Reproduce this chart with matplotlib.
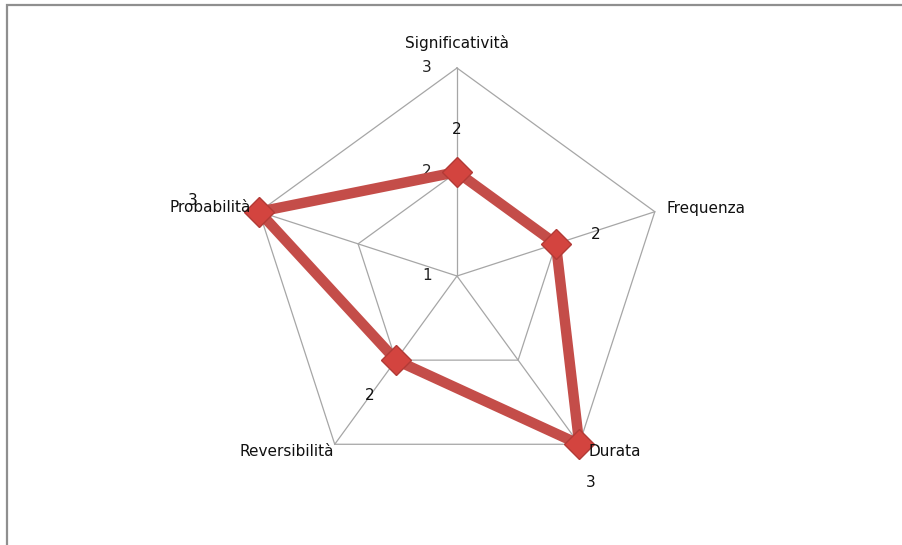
import numpy as np
import matplotlib
matplotlib.use('Agg')
import matplotlib.pyplot as plt
from matplotlib.patches import Rectangle

# Radar di valutazione dell'impatto
categories = ['Significatività', 'Frequenza', 'Durata', 'Reversibilità', 'Probabilità']
values = [2, 2, 3, 2, 3]
scale_ticks = [1, 2, 3]

# offset (pixel) delle etichette di categoria e dei valori
cat_offsets = [(0, 25), (12, 3), (9, -7), (-1, -7), (-8, 4)]
cat_align = ['center', 'left', 'left', 'right', 'right']
val_offsets = [(0, 42), (40, 9), (11, -38), (-26, -35), (-66, 11)]

grid_col = '#a6a6a6'
line_col = '#c44d49'
fs = 11

n = len(categories)
angles = np.linspace(0, 2 * np.pi, n, endpoint=False)
closed_ang = np.append(angles, angles[0])

fig = plt.figure(figsize=(9.02, 5.45), dpi=100)
ax = fig.add_axes([249 / 902, 61 / 545, 416 / 902, 416 / 545], projection='polar')
ax.set_theta_zero_location('N')
ax.set_theta_direction(-1)
ax.set_ylim(scale_ticks[0], scale_ticks[-1])
ax.axis('off')

# pentagoni della griglia e raggi
for r in scale_ticks[1:]:
    ax.plot(closed_ang, [r] * (n + 1), color=grid_col, lw=0.9, zorder=1, clip_on=False)
for a in angles:
    ax.plot([a, a], [scale_ticks[0], scale_ticks[-1]], color=grid_col, lw=0.9,
            zorder=1, clip_on=False)

# valori della scala lungo il primo asse
for t in scale_ticks:
    ax.annotate(str(t), xy=(0, t), xytext=(-30, 0), textcoords='offset pixels',
                ha='center', va='center', fontsize=fs, color='#222222', zorder=2)

# serie
ax.plot(closed_ang, values + values[:1], color=line_col, lw=7.5,
        solid_joinstyle='round', zorder=3, clip_on=False)
ax.plot(angles, values, 'D', ms=15, mfc='#d3443f', mec='#b23a36', mew=1,
        zorder=4, clip_on=False)

# etichette dei valori
for a, v, off in zip(angles, values, val_offsets):
    ax.annotate(str(v), xy=(a, v), xytext=off, textcoords='offset pixels',
                ha='center', va='center', fontsize=fs, color='#111111', zorder=5)

# etichette di categoria
for a, name, off, ha in zip(angles, categories, cat_offsets, cat_align):
    ax.annotate(name, xy=(a, scale_ticks[-1]), xytext=off, textcoords='offset pixels',
                ha=ha, va='center', fontsize=fs, color='#111111', zorder=6)

# cornice del grafico
fig.add_artist(Rectangle((7.5 / 902, -0.5), 2, 1.5 - 4.5 / 545, transform=fig.transFigure,
                         fill=False, ec='#8f8f8f', lw=1.6))

fig.savefig('out.png', dpi=100)
